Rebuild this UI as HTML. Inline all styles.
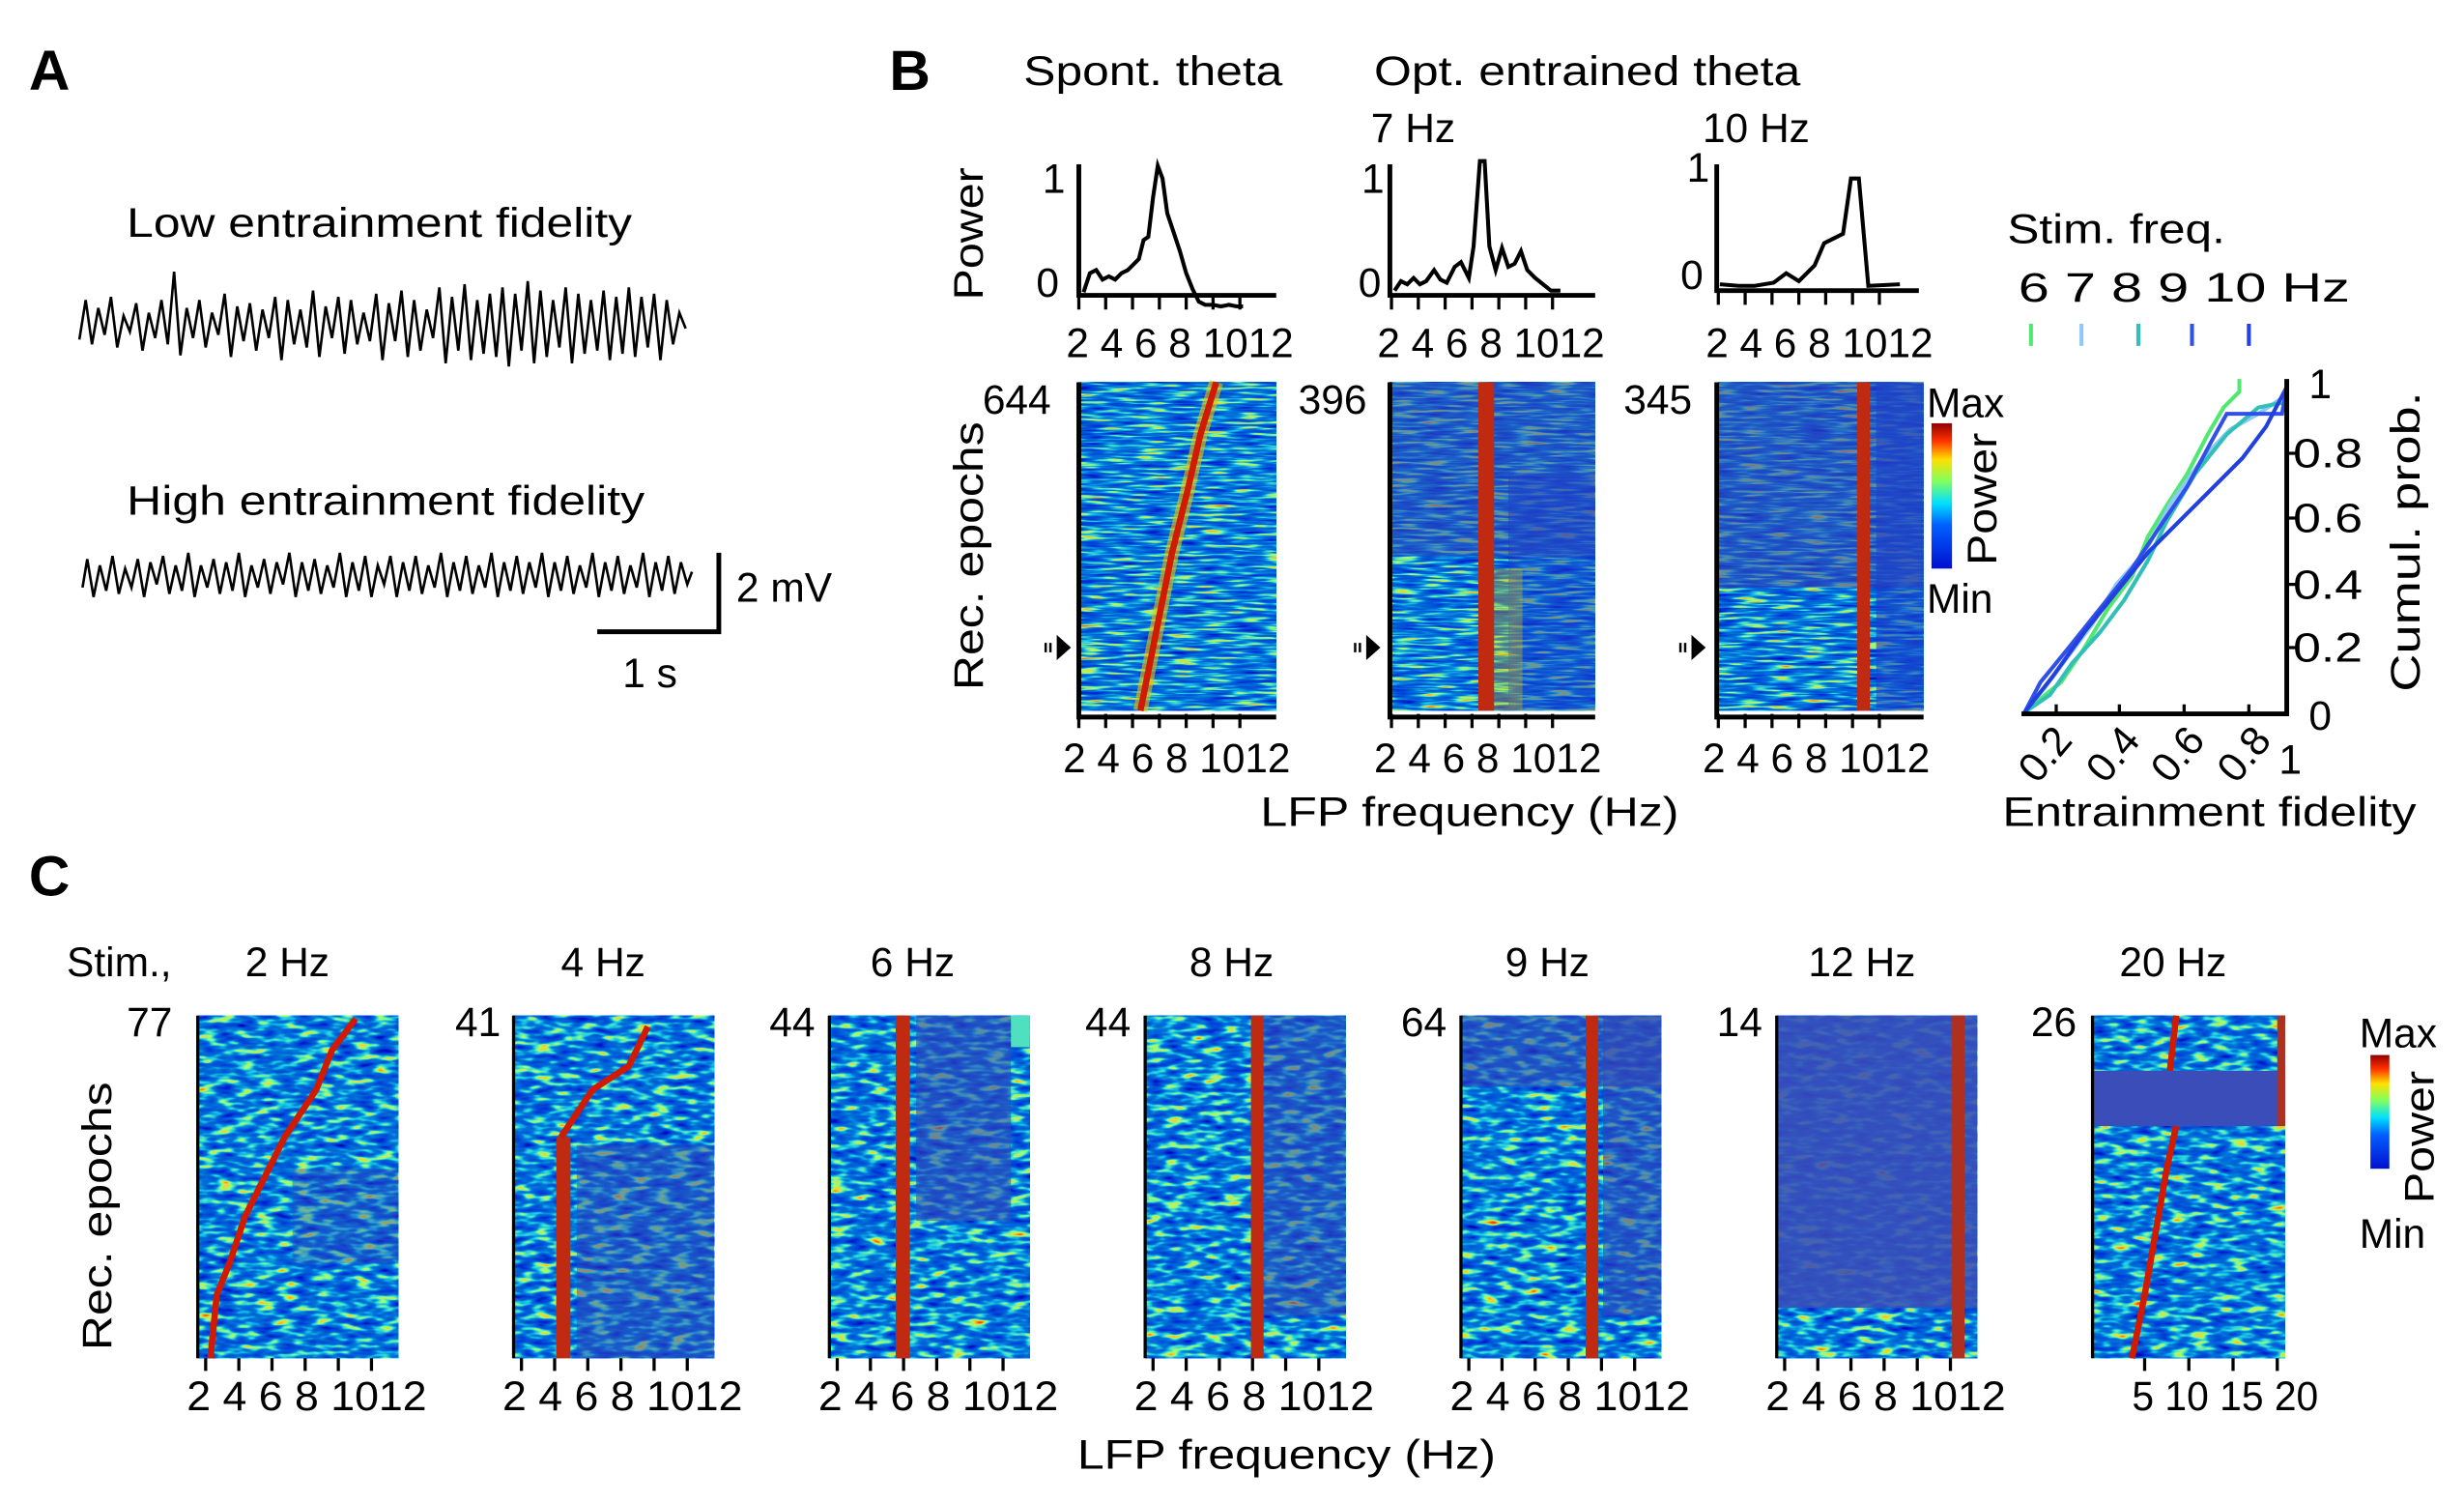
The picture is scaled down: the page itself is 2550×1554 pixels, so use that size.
<!DOCTYPE html>
<html><head><meta charset="utf-8"><style>
html,body{margin:0;padding:0;background:#fff;}
svg{display:block;}
text{font-family:"Liberation Sans",sans-serif;fill:#000;}
</style></head><body>
<svg width="2550" height="1554" viewBox="0 0 1560 951" xmlns="http://www.w3.org/2000/svg">
<defs>
<linearGradient id="cb" x1="0" y1="1" x2="0" y2="0">
<stop offset="0" stop-color="#0010d0"/><stop offset="0.3" stop-color="#0060ff"/><stop offset="0.45" stop-color="#00e0ff"/><stop offset="0.6" stop-color="#80ff60"/><stop offset="0.75" stop-color="#ffe000"/><stop offset="0.88" stop-color="#ff3000"/><stop offset="1" stop-color="#900000"/>
</linearGradient>
<filter id="n1" x="0" y="0" width="1" height="1" color-interpolation-filters="sRGB">
<feTurbulence type="fractalNoise" baseFrequency="0.05 0.55" numOctaves="2" seed="3"/>
<feColorMatrix values="1 0 0 0 0 1 0 0 0 0 1 0 0 0 0 0 0 0 0 1"/>
<feComponentTransfer>
<feFuncR type="table" tableValues="0 0 0 0 0 0 0.1 0.6 1 1 1"/>
<feFuncG type="table" tableValues="0 0 0.1 0.25 0.35 0.45 0.75 1 0.8 0.3 0"/>
<feFuncB type="table" tableValues="0.6 0.7 0.8 0.85 0.85 0.85 0.9 0.5 0.1 0 0"/>
</feComponentTransfer></filter>
<filter id="n2" x="0" y="0" width="1" height="1" color-interpolation-filters="sRGB">
<feTurbulence type="fractalNoise" baseFrequency="0.08 0.25" numOctaves="2" seed="7"/>
<feColorMatrix values="1 0 0 0 0 1 0 0 0 0 1 0 0 0 0 0 0 0 0 1"/>
<feComponentTransfer>
<feFuncR type="table" tableValues="0 0 0 0 0 0 0.1 0.6 1 1 1"/>
<feFuncG type="table" tableValues="0 0 0.1 0.25 0.35 0.45 0.8 1 0.8 0.3 0"/>
<feFuncB type="table" tableValues="0.6 0.7 0.8 0.85 0.85 0.85 0.9 0.5 0.1 0 0"/>
</feComponentTransfer></filter>
</defs>

<!-- Panel A -->
<text x="18" y="57" font-size="36" font-weight="bold">A</text>
<text x="80" y="150" font-size="26" textLength="320" lengthAdjust="spacingAndGlyphs">Low entrainment fidelity</text>
<polyline points="50,215 54,190 58,218 62,195 66,212 70,188 74,220 78,200 82,210 86,192 90,222 94,198 98,214 102,190 106,218 110,172 114,225 118,195 122,214 126,190 130,220 134,198 138,212 142,186 146,226 150,194 154,216 158,192 162,222 166,196 170,214 174,188 178,228 182,190 186,218 190,196 194,220 198,184 202,226 206,194 210,214 214,188 218,224 222,190 226,218 230,198 234,216 238,186 242,228 246,192 250,216 254,184 258,226 262,190 266,222 270,196 274,214 278,182 282,230 286,188 290,222 294,180 298,228 302,190 306,224 310,186 314,226 318,182 322,232 326,186 330,222 334,178 338,230 342,184 346,226 350,190 354,220 358,182 362,230 366,186 370,224 374,190 378,222 382,184 386,228 390,188 394,224 398,182 402,226 406,188 410,220 414,186 418,228 422,190 426,218 430,198 434,208" fill="none" stroke="#000" stroke-width="1.6"/>
<text x="80" y="326" font-size="26" textLength="328" lengthAdjust="spacingAndGlyphs">High entrainment fidelity</text>
<polyline points="52,372 55,354 59,378 63,358 67,374 71,352 75,376 79,360 83,372 87,354 91,378 95,356 99,370 103,352 107,376 111,358 115,374 119,350 123,378 127,358 131,372 135,354 139,376 143,356 147,374 151,350 155,378 159,358 163,372 167,354 171,376 175,356 179,370 183,350 187,378 191,356 195,374 199,354 203,376 207,358 211,372 215,350 219,378 223,356 227,374 231,352 235,378 239,358 243,370 247,352 251,378 255,356 259,374 263,352 267,376 271,358 275,372 279,350 283,378 287,356 291,374 295,352 299,376 303,358 307,372 311,350 315,378 319,356 323,374 327,352 331,376 335,356 339,372 343,350 347,378 351,356 355,374 359,352 363,376 367,358 371,372 375,350 379,378 383,356 387,374 391,352 395,376 399,358 403,372 407,350 411,378 415,356 419,374 423,352 427,376 431,356 435,370 438,362" fill="none" stroke="#000" stroke-width="1.6"/>
<path d="M455,350 V400 H378" fill="none" stroke="#000" stroke-width="3"/>
<text x="466" y="381" font-size="26">2 mV</text>
<text x="394" y="435" font-size="26">1 s</text>

<!-- Panel B -->
<text x="563" y="57" font-size="36" font-weight="bold">B</text>
<text x="648" y="54" font-size="26" textLength="164" lengthAdjust="spacingAndGlyphs">Spont. theta</text>
<text x="870" y="54" font-size="26" textLength="270" lengthAdjust="spacingAndGlyphs">Opt. entrained theta</text>
<text x="868" y="90" font-size="26">7 Hz</text>
<text x="1078" y="90" font-size="26">10 Hz</text>
<text transform="translate(622,190) rotate(-90)" font-size="26" textLength="84" lengthAdjust="spacingAndGlyphs">Power</text>

<g font-size="26">
<text x="660" y="122">1</text><text x="656" y="188">0</text>
<path d="M683,104 V187 H808" fill="none" stroke="#000" stroke-width="3"/>
<path d="M686,185 l4,-12 l4,-2 l4,6 l4,-2 l4,2 l4,-4 l4,-2 l4,-4 l3,-3 l3,-12 l3,-2 l3,-25 l3,-20 l3,8 l3,22 l4,12 l4,12 l4,14 l4,10 l4,8 l4,2 l5,0 l5,1 l5,-1 l5,1 l4,0" fill="none" stroke="#000" stroke-width="2.5"/>
<text x="862" y="122">1</text><text x="860" y="188">0</text>
<path d="M880,104 V187 H1010" fill="none" stroke="#000" stroke-width="3"/>
<path d="M883,184 l4,-6 l4,2 l4,-4 l4,4 l4,-2 l5,-7 l4,6 l4,2 l5,-10 l4,-3 l5,10 l3,-20 l4,-54 l3,0 l3,54 l4,15 l4,-14 l4,12 l4,-2 l4,-8 l4,12 l5,5 l5,4 l5,4 l6,0" fill="none" stroke="#000" stroke-width="2.5"/>
<text x="1068" y="115">1</text><text x="1064" y="183">0</text>
<path d="M1087,104 V184 H1215" fill="none" stroke="#000" stroke-width="3"/>
<path d="M1089,180 l12,1 l10,0 l12,-2 l8,-6 l8,5 l10,-10 l6,-14 l6,-3 l6,-3 l5,-35 l5,0 l6,68 l20,-1" fill="none" stroke="#000" stroke-width="2.5"/>
</g>
<g stroke="#000" stroke-width="2">
<path d="M683,187 v9 M700,187 v9 M717,187 v9 M734,187 v9 M751,187 v9 M768,187 v9 M785,187 v9"/>
<path d="M881,187 v9 M898,187 v9 M915,187 v9 M932,187 v9 M949,187 v9 M966,187 v9 M983,187 v9"/>
<path d="M1088,184 v9 M1105,184 v9 M1122,184 v9 M1139,184 v9 M1156,184 v9 M1173,184 v9 M1190,184 v9"/>
</g>
<g font-size="26">
<text x="675" y="226" textLength="144" lengthAdjust="spacingAndGlyphs">2 4 6 8 1012</text>
<text x="872" y="226" textLength="144" lengthAdjust="spacingAndGlyphs">2 4 6 8 1012</text>
<text x="1080" y="226" textLength="144" lengthAdjust="spacingAndGlyphs">2 4 6 8 1012</text>
</g>

<rect x="683" y="242" width="125" height="208" filter="url(#n1)"/>
<path d="M722,450 L732,400 L742,350 L752,310 L760,275 L770,242" stroke="#f0c000" stroke-width="9" fill="none" opacity="0.6"/>
<path d="M722,450 L732,400 L742,350 L752,310 L760,275 L770,242" stroke="#d21a00" stroke-width="4" fill="none"/>

<rect x="880" y="242" width="130" height="208" filter="url(#n1)"/>
<rect x="880" y="242" width="130" height="110" fill="#3348b8" opacity="0.55"/>
<rect x="955" y="300" width="55" height="150" fill="#2040c8" opacity="0.5"/>
<rect x="936" y="242" width="10" height="208" fill="#c02a10"/>
<rect x="946" y="360" width="18" height="90" fill="#e0c000" opacity="0.35"/>

<rect x="1088" y="242" width="130" height="208" filter="url(#n1)"/>
<rect x="1088" y="242" width="130" height="130" fill="#3348b8" opacity="0.6"/>
<rect x="1188" y="242" width="30" height="208" fill="#2040c8" opacity="0.6"/>
<rect x="1176" y="242" width="8" height="208" fill="#c02a10"/>

<g stroke="#000" stroke-width="3" fill="none">
<path d="M683,242 v212 h125"/>
<path d="M880,242 v212 h130"/>
<path d="M1087,242 v212 h131"/>
</g>
<g stroke="#000" stroke-width="2">
<path d="M683,452 v9 M700,452 v9 M717,452 v9 M734,452 v9 M751,452 v9 M768,452 v9 M785,452 v9"/>
<path d="M881,452 v9 M898,452 v9 M915,452 v9 M932,452 v9 M949,452 v9 M966,452 v9 M983,452 v9"/>
<path d="M1088,452 v9 M1105,452 v9 M1122,452 v9 M1139,452 v9 M1156,452 v9 M1173,452 v9 M1190,452 v9"/>
</g>
<g font-size="26">
<text x="622" y="262">644</text><text x="822" y="262">396</text><text x="1028" y="262">345</text>
<text x="673" y="489" textLength="144" lengthAdjust="spacingAndGlyphs">2 4 6 8 1012</text>
<text x="870" y="489" textLength="144" lengthAdjust="spacingAndGlyphs">2 4 6 8 1012</text>
<text x="1078" y="489" textLength="144" lengthAdjust="spacingAndGlyphs">2 4 6 8 1012</text>
<text x="798" y="523" textLength="265" lengthAdjust="spacingAndGlyphs">LFP frequency (Hz)</text>
<text transform="translate(622,437) rotate(-90)" textLength="170" lengthAdjust="spacingAndGlyphs">Rec. epochs</text>
</g>
<g fill="#000">
<path d="M669,402 l9,8 l-9,8z M865,402 l9,8 l-9,8z M1071,402 l9,8 l-9,8z"/>
<path d="M662,407 v6 M665,407 v6 M858,407 v6 M861,407 v6 M1064,407 v6 M1067,407 v6" stroke="#000" stroke-width="1.5"/>
</g>
<rect x="1223" y="268" width="13" height="92" fill="url(#cb)"/>
<text x="1220" y="264" font-size="26">Max</text>
<text x="1220" y="388" font-size="26">Min</text>
<text transform="translate(1264,358) rotate(-90)" font-size="26" textLength="84" lengthAdjust="spacingAndGlyphs">Power</text>

<text x="1271" y="154" font-size="26" textLength="138" lengthAdjust="spacingAndGlyphs">Stim. freq.</text>
<text x="1278" y="191" font-size="26" textLength="210" lengthAdjust="spacingAndGlyphs">6  7  8  9 10 Hz</text>
<g stroke-width="2.5">
<path d="M1286,205 v14" stroke="#50e870"/>
<path d="M1318,205 v14" stroke="#90c8f8"/>
<path d="M1354,205 v14" stroke="#30c0b8"/>
<path d="M1388,205 v14" stroke="#3050e8"/>
<path d="M1424,205 v14" stroke="#2040f0"/>
</g>
<g fill="none" stroke-width="2.5">
<path d="M1282,451 L1295,440 L1305,432 L1320,410 L1335,385 L1350,365 L1360,340 L1372,320 L1385,300 L1398,275 L1408,258 L1418,248 L1418,240" stroke="#50e870"/>
<path d="M1282,451 L1295,435 L1310,415 L1325,395 L1340,370 L1358,350 L1375,318 L1395,290 L1412,272 L1430,262 L1448,250" stroke="#90c8f8"/>
<path d="M1282,451 L1298,440 L1312,420 L1330,400 L1345,380 L1360,355 L1372,330 L1390,300 L1410,275 L1430,258 L1445,255" stroke="#30c0b8"/>
<path d="M1282,451 L1292,432 L1310,410 L1330,385 L1350,360 L1370,330 L1385,308 L1400,280 L1410,262 L1445,262 L1448,245" stroke="#3050e8"/>
<path d="M1282,451 L1300,428 L1320,400 L1340,375 L1360,350 L1380,330 L1400,310 L1420,290 L1435,270 L1448,245" stroke="#2040e0"/>
</g>
<path d="M1280,452 H1448 V240" fill="none" stroke="#000" stroke-width="3"/>
<g stroke="#000" stroke-width="2">
<path d="M1448,287 h8 M1448,328 h8 M1448,370 h8 M1448,410 h8 M1302,452 v-6 M1342,452 v-6 M1383,452 v-6 M1424,452 v-6"/>
</g>
<g font-size="26">
<text x="1462" y="252">1</text>
<text x="1452" y="296" textLength="44" lengthAdjust="spacingAndGlyphs">0.8</text>
<text x="1452" y="337" textLength="44" lengthAdjust="spacingAndGlyphs">0.6</text>
<text x="1452" y="379" textLength="44" lengthAdjust="spacingAndGlyphs">0.4</text>
<text x="1452" y="419" textLength="44" lengthAdjust="spacingAndGlyphs">0.2</text>
<text x="1462" y="462">0</text>
<text transform="translate(1290,497) rotate(-50)">0.2</text>
<text transform="translate(1333,497) rotate(-50)">0.4</text>
<text transform="translate(1374,497) rotate(-50)">0.6</text>
<text transform="translate(1416,497) rotate(-50)">0.8</text>
<text x="1443" y="490">1</text>
<text x="1268" y="523" textLength="262" lengthAdjust="spacingAndGlyphs">Entrainment fidelity</text>
<text transform="translate(1532,438) rotate(-90)" textLength="190" lengthAdjust="spacingAndGlyphs">Cumul. prob.</text>
</g>

<!-- Panel C -->
<text x="18" y="567" font-size="36" font-weight="bold">C</text>
<g font-size="26">
<text x="42" y="618">Stim.,</text>
<text x="155" y="618">2 Hz</text>
<text x="355" y="618">4 Hz</text>
<text x="551" y="618">6 Hz</text>
<text x="753" y="618">8 Hz</text>
<text x="953" y="618">9 Hz</text>
<text x="1145" y="618">12 Hz</text>
<text x="1342" y="618">20 Hz</text>
<text x="80" y="656">77</text><text x="288" y="656">41</text><text x="487" y="656">44</text><text x="687" y="656">44</text><text x="887" y="656">64</text><text x="1087" y="656">14</text><text x="1286" y="656">26</text>
</g>
<rect x="125" y="643" width="127" height="217" filter="url(#n2)"/>
<path d="M133,860 L137,820 L145,800 L155,770 L165,750 L180,720 L200,690 L210,665 L225,645" stroke="#d21a00" stroke-width="4" fill="none"/>
<rect x="185" y="740" width="67" height="60" fill="#3348b8" opacity="0.4"/>

<rect x="325" y="643" width="127" height="217" filter="url(#n2)"/>
<rect x="365" y="725" width="87" height="135" fill="#3348b8" opacity="0.5"/>
<rect x="352" y="720" width="9" height="140" fill="#c02a10"/>
<path d="M355,720 L375,690 L398,675 L410,650" stroke="#d21a00" stroke-width="4" fill="none"/>

<rect x="525" y="643" width="127" height="217" filter="url(#n2)"/>
<rect x="580" y="643" width="60" height="130" fill="#3348b8" opacity="0.6"/>
<rect x="567" y="643" width="9" height="217" fill="#c02a10"/>
<rect x="640" y="643" width="12" height="20" fill="#50e0c0"/>

<rect x="725" y="643" width="127" height="217" filter="url(#n2)"/>
<rect x="800" y="643" width="52" height="190" fill="#3348b8" opacity="0.55"/>
<rect x="792" y="643" width="8" height="217" fill="#c02a10"/>

<rect x="925" y="643" width="127" height="217" filter="url(#n2)"/>
<rect x="925" y="643" width="127" height="45" fill="#3348b8" opacity="0.6"/>
<rect x="1015" y="643" width="37" height="190" fill="#3348b8" opacity="0.6"/>
<rect x="1004" y="643" width="8" height="217" fill="#c02a10"/>

<rect x="1125" y="643" width="127" height="217" filter="url(#n2)"/>
<rect x="1125" y="643" width="127" height="185" fill="#3a4db8" opacity="0.88"/>
<rect x="1236" y="643" width="8" height="217" fill="#b03020"/>

<rect x="1325" y="643" width="122" height="217" filter="url(#n2)"/>
<rect x="1325" y="678" width="122" height="35" fill="#3a4db8"/>
<path d="M1350,860 L1358,820 L1365,780 L1372,740 L1378,713 M1374,678 L1378,643" stroke="#d21a00" stroke-width="4" fill="none"/>
<rect x="1442" y="643" width="5" height="70" fill="#b03020"/>

<g stroke="#000" stroke-width="2">
<path d="M125,643 V860"/><path d="M325,643 V860"/><path d="M525,643 V860"/><path d="M725,643 V860"/><path d="M925,643 V860"/><path d="M1125,643 V860"/><path d="M1325,643 V860"/>
<path d="M130,860 v8 M151,860 v8 M172,860 v8 M193,860 v8 M214,860 v8 M235,860 v8"/>
<path d="M330,860 v8 M351,860 v8 M372,860 v8 M393,860 v8 M414,860 v8 M435,860 v8"/>
<path d="M530,860 v8 M551,860 v8 M572,860 v8 M593,860 v8 M614,860 v8 M635,860 v8"/>
<path d="M730,860 v8 M751,860 v8 M772,860 v8 M793,860 v8 M814,860 v8 M835,860 v8"/>
<path d="M930,860 v8 M951,860 v8 M972,860 v8 M993,860 v8 M1014,860 v8 M1035,860 v8"/>
<path d="M1130,860 v8 M1151,860 v8 M1172,860 v8 M1193,860 v8 M1214,860 v8 M1235,860 v8"/>
<path d="M1358,860 v8 M1386,860 v8 M1414,860 v8 M1442,860 v8"/>
</g>
<g font-size="26">
<text x="118" y="893" textLength="152" lengthAdjust="spacingAndGlyphs">2 4 6 8 1012</text>
<text x="318" y="893" textLength="152" lengthAdjust="spacingAndGlyphs">2 4 6 8 1012</text>
<text x="518" y="893" textLength="152" lengthAdjust="spacingAndGlyphs">2 4 6 8 1012</text>
<text x="718" y="893" textLength="152" lengthAdjust="spacingAndGlyphs">2 4 6 8 1012</text>
<text x="918" y="893" textLength="152" lengthAdjust="spacingAndGlyphs">2 4 6 8 1012</text>
<text x="1118" y="893" textLength="152" lengthAdjust="spacingAndGlyphs">2 4 6 8 1012</text>
<text x="1350" y="893" textLength="118" lengthAdjust="spacingAndGlyphs">5 10 15 20</text>
<text x="682" y="930" textLength="265" lengthAdjust="spacingAndGlyphs">LFP frequency (Hz)</text>
<text transform="translate(70,855) rotate(-90)" textLength="170" lengthAdjust="spacingAndGlyphs">Rec. epochs</text>
</g>
<rect x="1501" y="668" width="12" height="72" fill="url(#cb)"/>
<text x="1494" y="663" font-size="26">Max</text>
<text x="1494" y="790" font-size="26">Min</text>
<text transform="translate(1541,762) rotate(-90)" font-size="26" textLength="84" lengthAdjust="spacingAndGlyphs">Power</text>
</svg>
</body></html>
